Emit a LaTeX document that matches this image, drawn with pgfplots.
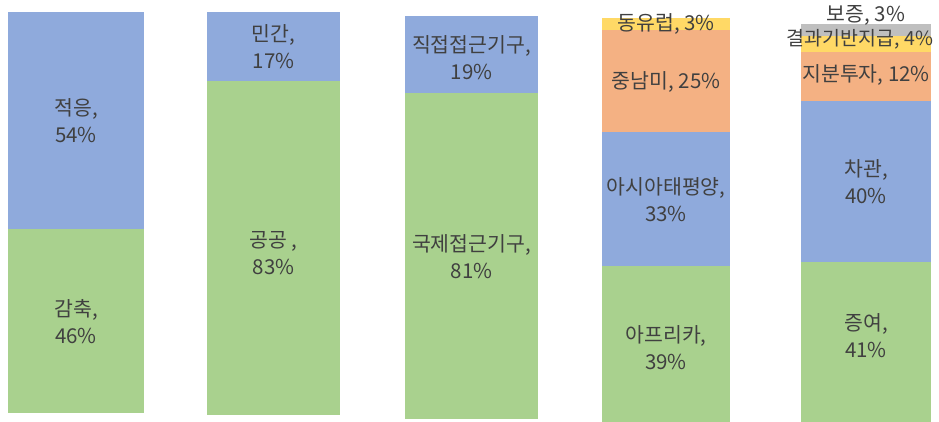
\documentclass[border=0pt]{standalone}
\usepackage{fontspec}
\setmainfont{Noto Sans CJK KR}
\usepackage{pgfplots}
\pgfplotsset{compat=1.18}
\definecolor{cblue}{HTML}{8FAADC}
\definecolor{cgreen}{HTML}{A9D18E}
\definecolor{corange}{HTML}{F4B183}
\definecolor{cyellow}{HTML}{FFD966}
\definecolor{cgrey}{HTML}{BFBFBF}
\definecolor{txt}{HTML}{404040}
\pgfplotsset{
  onebar/.style={
    anchor=south west, scale only axis, hide axis, clip=false,
    xmin=-0.5, xmax=0.5, ymin=0, ymax=100,
    ybar stacked, bar width=#1pt, width=#1pt,
  },
}
\tikzset{lab/.style={font=\fontsize{20.5}{27}\selectfont, text=txt, align=center, inner sep=0pt}}
\begin{document}
\begin{tikzpicture}
\useasboundingbox (0pt,0pt) rectangle (939pt,422pt);
% bar 1
\begin{axis}[onebar=136, at={(8pt,9pt)}, height=401pt]
\addplot[fill=cgreen, draw=none] coordinates {(0,46)};
\addplot[fill=cblue, draw=none] coordinates {(0,54)};
\coordinate (a1) at (axis cs:0,72.8);
\coordinate (a2) at (axis cs:0,22.9);
\end{axis}
\node[lab] at (a1) {적응,\\54\%};
\node[lab] at (a2) {감축,\\46\%};
% bar 2
\begin{axis}[onebar=133, at={(207pt,7pt)}, height=403pt]
\addplot[fill=cgreen, draw=none] coordinates {(0,83)};
\addplot[fill=cblue, draw=none] coordinates {(0,17)};
\coordinate (b1) at (axis cs:0,91.3);
\coordinate (b2) at (axis cs:0,40.2);
\end{axis}
\node[lab] at (b1) {민간,\\17\%};
\node[lab] at (b2) {공공 ,\\83\%};
% bar 3
\begin{axis}[onebar=133, at={(405pt,3pt)}, height=403pt]
\addplot[fill=cgreen, draw=none] coordinates {(0,81)};
\addplot[fill=cblue, draw=none] coordinates {(0,19)};
\coordinate (c1) at (axis cs:0,89.6);
\coordinate (c2) at (axis cs:0,40.4);
\end{axis}
\node[lab] at (c1) {직접접근기구,\\19\%};
\node[lab] at (c2) {국제접근기구,\\81\%};
% bar 4
\begin{axis}[onebar=128, at={(602pt,-3pt)}, height=407pt]
\addplot[fill=cgreen, draw=none] coordinates {(0,39)};
\addplot[fill=cblue, draw=none] coordinates {(0,33)};
\addplot[fill=corange, draw=none] coordinates {(0,25)};
\addplot[fill=cyellow, draw=none] coordinates {(0,3)};
\coordinate (d1) at (axis cs:0,98.5);
\coordinate (d2) at (axis cs:0,84.3);
\coordinate (d3) at (axis cs:0,55.3);
\coordinate (d4) at (axis cs:0,18.9);
\end{axis}
\node[lab] at (d1) {동유럽, 3\%};
\node[lab] at (d2) {중남미, 25\%};
\node[lab] at (d3) {아시아태평양,\\33\%};
\node[lab] at (d4) {아프리카,\\39\%};
% bar 5
\begin{axis}[onebar=130, at={(801pt,-5pt)}, height=403pt]
\addplot[fill=cgreen, draw=none] coordinates {(0,41)};
\addplot[fill=cblue, draw=none] coordinates {(0,40)};
\addplot[fill=corange, draw=none] coordinates {(0,12)};
\addplot[fill=cyellow, draw=none] coordinates {(0,4)};
\addplot[fill=cgrey, draw=none] coordinates {(0,3)};
\coordinate (e1) at (axis cs:0,102);
\coordinate (e2) at (axis cs:0,96.3);
\coordinate (e3) at (axis cs:0,87.3);
\coordinate (e4) at (axis cs:0,61.0);
\coordinate (e5) at (axis cs:0,22.6);
\end{axis}
\node[lab] at (e1) {보증, 3\%};
\node[lab, xshift=-6pt, font=\fontsize{19.5}{27}\selectfont] at (e2) {결과기반지급, 4\%};
\node[lab] at (e3) {지분투자, 12\%};
\node[lab] at (e4) {차관,\\40\%};
\node[lab] at (e5) {증여,\\41\%};
\end{tikzpicture}
\end{document}
